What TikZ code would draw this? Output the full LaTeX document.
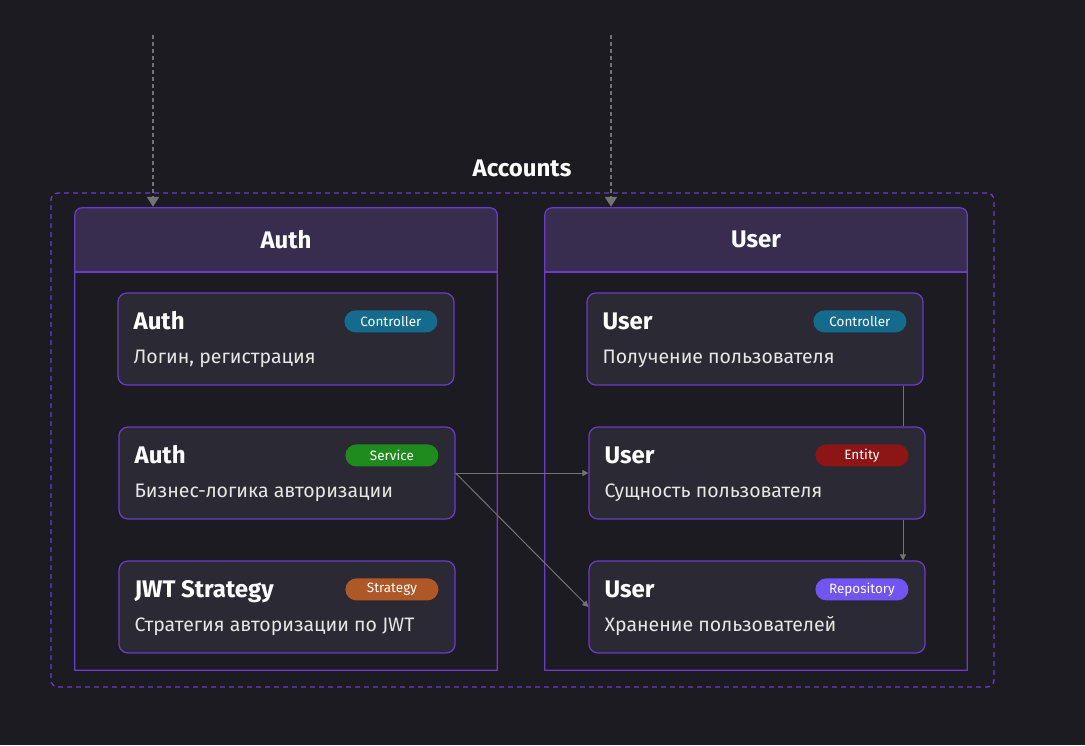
\documentclass[tikz,border=0pt]{standalone}
\usepackage{fontspec}
\setmainfont{Fira Sans}
\usetikzlibrary{arrows.meta}
\definecolor{bgc}{HTML}{1C1B21}
\definecolor{hdrc}{HTML}{382D4F}
\definecolor{cardc}{HTML}{2B2A34}
\definecolor{purp}{HTML}{6A3CC9}
\definecolor{linec}{HTML}{737373}
\definecolor{ctrlc}{HTML}{156B8D}
\definecolor{servc}{HTML}{1F8B1E}
\definecolor{stratc}{HTML}{AE5827}
\definecolor{entc}{HTML}{8C1515}
\definecolor{repoc}{HTML}{7055F0}
\definecolor{subc}{HTML}{E6E6E6}
\tikzset{
  grp/.style={minimum width=422pt, minimum height=462pt, inner sep=0pt},
  card/.style={draw=purp, line width=1.2pt, fill=cardc, rounded corners=9pt, minimum width=336pt, minimum height=92pt, inner sep=0pt},
  ttl/.style={anchor=base west, text=white, font=\fontsize{24}{28}\selectfont\bfseries, inner sep=0pt},
  sub/.style={anchor=base west, text=subc, font=\fontsize{19.5}{23}\selectfont, inner sep=0pt},
  badge/.style={anchor=east, rounded corners=11pt, minimum width=93pt, minimum height=22pt, inner sep=0pt, text=white, font=\fontsize{13.5}{15}\selectfont},
  gttl/.style={text=white, font=\fontsize{24}{28}\selectfont\bfseries, inner sep=0pt},
  conn/.style={draw=linec, line width=1pt, -{Triangle[length=6pt,width=6pt]}},
  topar/.style={draw=linec, line width=2pt, dash pattern=on 4pt off 3pt, -{Triangle[length=10pt,width=12pt]}, shorten >=1pt},
}
\newcommand{\mkcard}[6]{%
  \node[card] (#1) at (#2) {};
  \node[ttl] (#1t) at ([xshift=16pt,yshift=-37pt]#1.north west) {#3};
  \node[sub] (#1s) at ([xshift=16pt,yshift=-71pt]#1.north west) {#4};
  \node[badge, fill=#6] (#1b) at ([xshift=-17pt,yshift=-29pt]#1.north east) {#5};
}
\newcommand{\mkgroup}[3]{%
  \node[grp] (#1) at (#2) {};
  \fill[hdrc, rounded corners=7pt] ([yshift=-64pt]#1.north west) -- (#1.north west) -- (#1.north east) -- ([yshift=-64pt]#1.north east);
  \draw[purp, line width=1.2pt] (#1.south west) {[rounded corners=7pt] -- (#1.north west) -- (#1.north east)} -- (#1.south east) -- cycle;
  \draw[purp, line width=2pt] ([yshift=-64pt]#1.north west) -- ([yshift=-64pt]#1.north east);
  \node[gttl] (#1t) at ([yshift=-32pt]#1.north) {#3};
}
\begin{document}
\begin{tikzpicture}[x=1pt,y=-1pt]
\fill[bgc] (0,0) rectangle (1085,745);
\useasboundingbox (0,0) rectangle (1085,745);
% outer Accounts box
\node[minimum width=943pt, minimum height=494pt, inner sep=0pt, draw=purp, line width=1.3pt, dash pattern=on 5pt off 4pt, rounded corners=7pt] (acc) at (522.5,440) {};
\node[gttl] (acct) at (522,168) {Accounts};
% groups
\mkgroup{authg}{286,439}{Auth}
\mkgroup{userg}{756,439}{User}
% cards
\mkcard{ac}{286,339}{Auth}{Логин, регистрация}{Controller}{ctrlc}
\mkcard{as}{287,473}{Auth}{Бизнес-логика авторизации}{Service}{servc}
\mkcard{js}{287,607}{JWT Strategy}{Стратегия авторизации по JWT}{Strategy}{stratc}
\mkcard{uc}{755,339}{User}{Получение пользователя}{Controller}{ctrlc}
\mkcard{ue}{757,473}{User}{Сущность пользователя}{Entity}{entc}
\mkcard{ur}{757,607}{User}{Хранение пользователей}{Repository}{repoc}
% top incoming arrows
\coordinate (ta) at (153,35);
\coordinate (tu) at (611,35);
\draw[topar] (ta) -- (ta |- authg.north);
\draw[topar] (tu) -- (tu |- userg.north);
% connectors
\draw[conn] (as.east) -- (ue.west);
\draw[conn] (as.east) -- (ur.west);
\coordinate (vx) at (903,0);
\draw[draw=linec, line width=1pt] (vx |- uc.south) -- (vx |- ue.north);
\draw[conn] (vx |- ue.south) -- (vx |- ur.north);
\end{tikzpicture}
\end{document}
